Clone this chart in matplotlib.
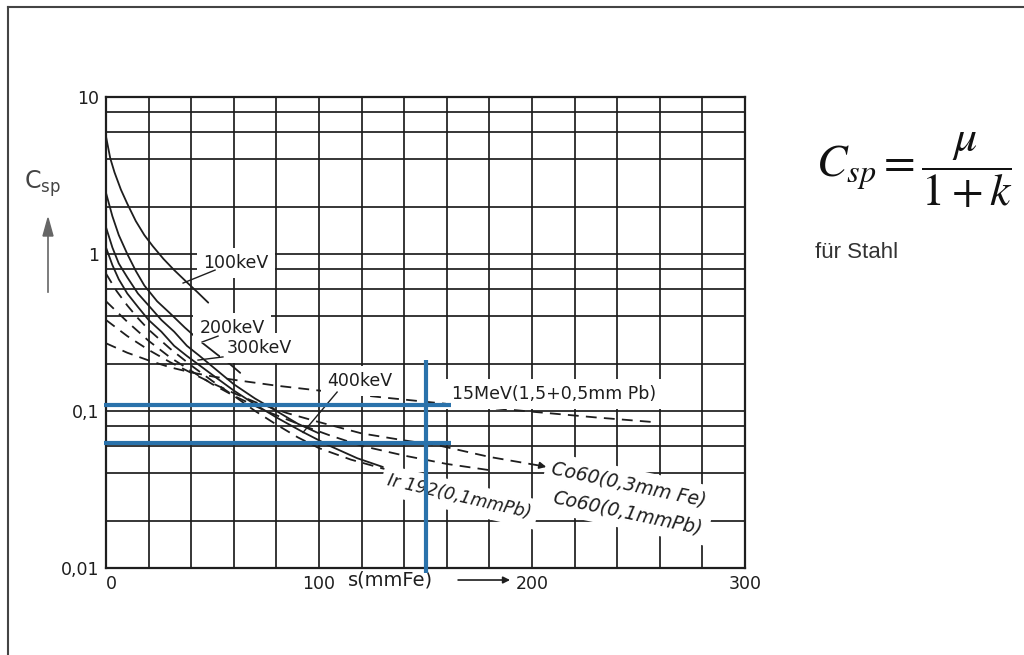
import numpy as np
import matplotlib
matplotlib.use("Agg")
import matplotlib.pyplot as plt
from matplotlib.ticker import FixedLocator, NullFormatter
from matplotlib.lines import Line2D

plt.rcParams['font.family'] = ['DejaVu Sans']
plt.rcParams['mathtext.fontset'] = 'stix'

# ---------------- data ----------------
x_100 = [0, 2, 4, 7, 10, 14, 18, 22, 27, 32, 38, 43, 48]
y_100 = [5.6, 4.07, 3.31, 2.57, 2.09, 1.62, 1.32, 1.12, 0.93, 0.79, 0.66, 0.57, 0.49]

x_200 = [0, 3, 6, 10, 14, 18, 24, 30, 37, 44, 52, 58, 63]
y_200 = [2.45, 1.74, 1.32, 1.0, 0.78, 0.63, 0.50, 0.42, 0.34, 0.28, 0.23, 0.20, 0.175]

x_300 = [0, 3, 6, 10, 15, 20, 26, 32, 38, 44, 52, 60, 70, 80, 90, 100]
y_300 = [1.48, 1.10, 0.87, 0.71, 0.56, 0.47, 0.38, 0.32, 0.26, 0.224, 0.182, 0.148, 0.12, 0.10, 0.083, 0.072]

x_400 = [0, 3, 6, 10, 15, 20, 26, 32, 38, 44, 52, 60, 70, 80, 92, 105, 118, 130]
y_400 = [1.1, 0.85, 0.69, 0.56, 0.46, 0.38, 0.32, 0.26, 0.224, 0.195, 0.162, 0.135, 0.11, 0.091, 0.074, 0.06, 0.05, 0.044]

x_ir = [0, 5, 10, 15, 20, 30, 40, 50, 60, 70, 80, 90, 100, 115, 130, 145, 161]
y_ir = [0.75, 0.58, 0.47, 0.39, 0.33, 0.25, 0.195, 0.155, 0.125, 0.10, 0.082, 0.068, 0.058, 0.049, 0.043, 0.039, 0.036]

x_co_fe = [0, 10, 20, 30, 40, 50, 60, 70, 85, 100, 120, 140, 157, 180, 206]
y_co_fe = [0.38, 0.30, 0.245, 0.205, 0.175, 0.15, 0.13, 0.114, 0.097, 0.085, 0.072, 0.065, 0.060, 0.051, 0.0443]

x_co_pb = [0, 10, 20, 30, 40, 50, 60, 75, 90, 105, 120, 140, 160, 180]
y_co_pb = [0.5, 0.37, 0.28, 0.22, 0.18, 0.148, 0.125, 0.10, 0.083, 0.07, 0.06, 0.052, 0.046, 0.042]

x_15 = [0, 10, 20, 30, 40, 50, 60, 80, 100, 130, 160, 200, 230, 257]
y_15 = [0.27, 0.235, 0.21, 0.19, 0.176, 0.166, 0.158, 0.145, 0.135, 0.122, 0.111, 0.099, 0.091, 0.085]

x_major = [0, 100, 200, 300]
x_major_labels = ['0', '100', '200', '300']
y_major = [0.01, 0.1, 1, 10]
y_major_labels = ['0,01', '0,1', '1', '10']

marker_y = [0.11, 0.063]   # blue horizontal reading lines
marker_x = 150             # blue vertical reading line

# ---------------- figure ----------------
W, H = 1024, 655
fig = plt.figure(figsize=(W / 100, H / 100), dpi=100)
ax = fig.add_axes([106 / W, 1 - 568 / H, (745 - 106) / W, (568 - 97) / H])
ax.set_yscale('log')
ax.set_xlim(0, 300)
ax.set_ylim(0.01, 10)

ink = '#1e1e1e'
ax.set_xticks(x_major)
ax.set_xticklabels(x_major_labels)
ax.xaxis.set_minor_locator(FixedLocator(np.arange(0, 301, 20)))
ax.set_yticks(y_major)
ax.set_yticklabels(y_major_labels)
ax.yaxis.set_minor_locator(FixedLocator([m * 10.0 ** e for e in (-2, -1, 0) for m in (2, 4, 6, 8)]))
ax.yaxis.set_minor_formatter(NullFormatter())
ax.xaxis.set_minor_formatter(NullFormatter())
ax.tick_params(which='both', length=0, labelsize=12.5, colors=ink)
ax.tick_params(axis='x', pad=5)
ax.tick_params(axis='y', pad=5)
ax.get_xticklabels()[0].set_horizontalalignment('left')
ax.grid(which='both', color=ink, lw=1.25)
ax.set_axisbelow(True)
for s in ax.spines.values():
    s.set_linewidth(1.6)
    s.set_color(ink)

solid = dict(color=ink, lw=1.3, solid_capstyle='round')
dashed = dict(color=ink, lw=1.3, ls=(0, (6, 4)))
ax.plot(x_100, y_100, **solid, zorder=3)
ax.plot(x_200, y_200, **solid, zorder=3)
ax.plot(x_300, y_300, **solid, zorder=3)
ax.plot(x_400, y_400, **solid, zorder=3)
ax.plot(x_ir, y_ir, **dashed, zorder=3)
ax.plot(x_co_fe, y_co_fe, **dashed, zorder=3)
ax.plot(x_co_pb, y_co_pb, **dashed, zorder=3)
ax.plot(x_15, y_15, **dashed, zorder=3)
ax.annotate('', xy=(x_co_fe[-1] + 2, y_co_fe[-1] * 0.985), xytext=(x_co_fe[-1] - 3, y_co_fe[-1] * 1.02),
            arrowprops=dict(arrowstyle='-|>', color=ink, lw=1.2, mutation_scale=10), zorder=3)

# labels with white boxes (they hide the grid as in the scan)
box = dict(boxstyle='square,pad=0.35', fc='white', ec='none')
lab = dict(fontsize=12.5, color=ink, zorder=4, bbox=box)
ax.text(61.0, 0.876, '100keV', ha='center', va='center', **lab)
ax.text(59.2, 0.338, '200keV', ha='center', va='center', **lab)
ax.text(71.8, 0.252, '300keV', ha='center', va='center', **lab)
ax.text(119.2, 0.155, '400keV', ha='center', va='center', **lab)
ax.text(162.4, 0.128, '15MeV(1,5+0,5mm Pb)', ha='left', va='center', **lab)
lab_it = dict(lab, fontsize=13.5, style='italic', rotation_mode='anchor')
ax.text(245.5, 0.0338, 'Co60(0,3mm Fe)', ha='center', va='center', rotation=-12, **lab_it)
ax.text(245, 0.0224, 'Co60(0,1mmPb)', ha='center', va='center', rotation=-12, **lab_it)
lab_it2 = dict(lab_it, fontsize=12.5)
ax.text(166, 0.0283, 'Ir 192(0,1mmPb)', ha='center', va='center', rotation=-13, **lab_it2)

# leader lines
lead = dict(color=ink, lw=1.0, zorder=4)
ax.plot([51.2, 36.2], [0.79, 0.653], **lead)
ax.plot([52.6, 45.1], [0.30, 0.275], **lead)
ax.plot([54.9, 43.2], [0.221, 0.211], **lead)
ax.plot([108.5, 92.5], [0.132, 0.073], **lead)

# blue reading lines
blue = '#2a72ab'
for yv in marker_y:
    ax.plot([-1, 162], [yv, yv], color=blue, lw=3.0, zorder=5, clip_on=False, solid_capstyle='butt')
ax.plot([marker_x, marker_x], [0.0093, 0.21], color=blue, lw=3.0, zorder=5, clip_on=False,
        solid_capstyle='butt')

# x-axis caption with arrow
tr = ax.get_xaxis_transform()
ax.text(113.5, -0.0255, 's(mmFe)', transform=tr, ha='left', va='center', fontsize=14, color=ink)
ax.annotate('', xy=(191, -0.0255), xytext=(164, -0.0255), xycoords=tr, textcoords=tr,
            arrowprops=dict(arrowstyle='-|>', color=ink, lw=1.2, mutation_scale=10))

# y-axis caption with arrow
fig.text(24 / W, 1 - 184 / H, r'$\mathregular{C_{sp}}$', fontsize=17, color='#444444', ha='left', va='center')
fig.add_artist(Line2D([48 / W, 48 / W], [1 - 292 / H, 1 - 230 / H], color='#666666', lw=1.2))
fig.patches.append(matplotlib.patches.FancyArrow(48 / W, 1 - 236 / H, 0, 18 / H, width=0.0005,
                                                 head_width=10 / W, head_length=18 / H,
                                                 length_includes_head=True, color='#666666',
                                                 transform=fig.transFigure, figure=fig))

# formula on the right
fig.text(914 / W, 1 - 170 / H, r'$C_{sp}=\dfrac{\mu}{1+k}$', fontsize=33, ha='center', va='center',
         color='#111111')
fig.text(815 / W, 1 - 252 / H, 'für Stahl', fontsize=16, ha='left', va='center', color='#333333',
         family=['Liberation Sans', 'DejaVu Sans'])

# slide frame lines (left and top)
fig.add_artist(Line2D([8 / W, 8 / W], [0, 1 - 7 / H], color='#444444', lw=1.5))
fig.add_artist(Line2D([8 / W, 1], [1 - 7 / H, 1 - 7 / H], color='#444444', lw=1.5))

fig.savefig('out.png', dpi=100, facecolor='white')
